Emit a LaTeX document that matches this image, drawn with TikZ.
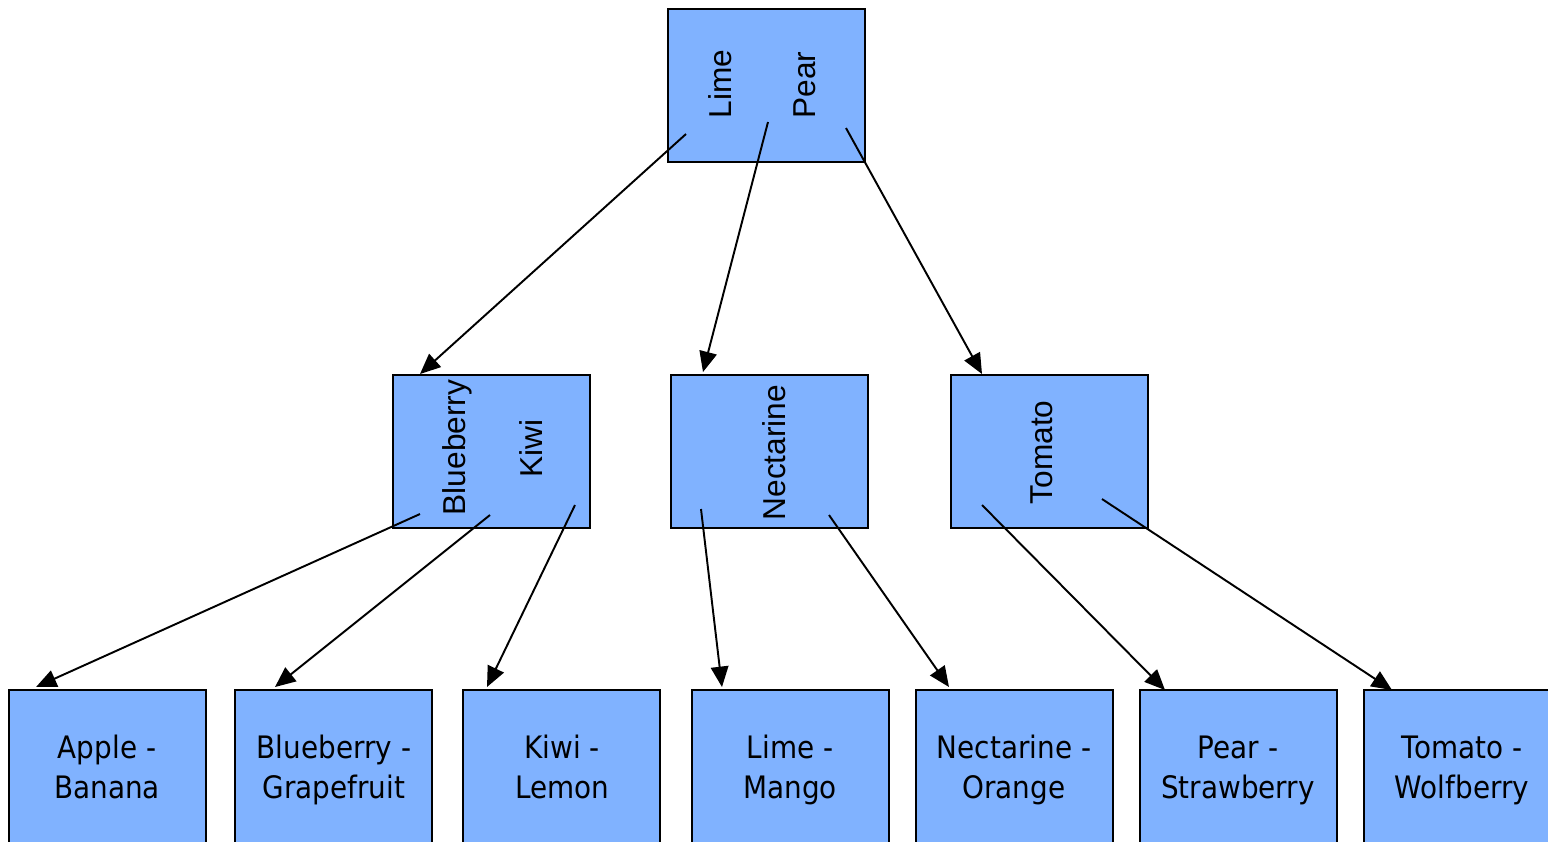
\documentclass[tikz,border=0pt]{standalone}
\usepackage{fontspec}
\setmainfont{DejaVu Sans}
\newfontfamily\rotfont{Liberation Sans}
\newfontfamily\leaffont[FakeStretch=0.9]{DejaVu Sans}
\usetikzlibrary{arrows.meta,calc}
\definecolor{boxblue}{RGB}{128,178,255}
\begin{document}
\begin{tikzpicture}[x=0.01cm,y=-0.01cm,
  box/.style={draw=black,line width=0.6pt,fill=boxblue,minimum width=1.97cm,minimum height=1.53cm,anchor=north west,inner sep=0pt,outer sep=0pt},
  vlab/.style={rotate=90,anchor=base west,inner sep=0pt,font=\rotfont\fontsize{9}{10}\selectfont},
  leaf/.style={align=center,anchor=base,inner sep=0pt,font=\leaffont\fontsize{8.8}{11.1}\selectfont},
  arr/.style={line width=0.55pt,-{Triangle[length=5.8pt,width=5pt]}}]
\useasboundingbox (0,0) rectangle (1548,841);
% boxes
\node[box] (root) at (668,9) {};
\node[box] (bk) at (393,375) {};
\node[box] (nec) at (671,375) {};
\node[box] (tom) at (951,375) {};
\node[box] (l1) at (9,690) {};
\node[box] (l2) at (235,690) {};
\node[box] (l3) at (463,690) {};
\node[box] (l4) at (692,690) {};
\node[box] (l5) at (916,690) {};
\node[box] (l6) at (1140,690) {};
\node[box] (l7) at (1364,690) {};
% rotated labels
\node[vlab] (tlime) at (731,119) {Lime};
\node[vlab] (tpear) at (815,119) {Pear};
\node[vlab] (tblue) at (465,516) {Blueberry};
\node[vlab] (tkiwi) at (542,478) {Kiwi};
\node[vlab] (tnec) at (785,521) {Nectarine};
\node[vlab] (ttom) at (1052,505) {Tomato};
% leaf labels
\node[leaf] (t1) at (107,798) {Apple -\\Banana};
\node[leaf] (t2) at (334,798) {Blueberry -\\Grapefruit};
\node[leaf] (t3) at (562,798) {Kiwi -\\Lemon};
\node[leaf] (t4) at (790,798) {Lime -\\Mango};
\node[leaf] (t5) at (1014,798) {Nectarine -\\Orange};
\node[leaf] (t6) at (1238,798) {Pear -\\Strawberry};
\node[leaf] (t7) at (1462,798) {Tomato -\\Wolfberry};
% arrows
\draw[arr] ($(root.north west)+(18,125)$) -- ($(bk.north west)+(27,-1)$);
\draw[arr] ($(root.north west)+(100,113)$) -- ($(nec.north west)+(32,-3)$);
\draw[arr] ($(root.north west)+(178,119)$) -- ($(tom.north west)+(31,-1)$);
\draw[arr] ($(bk.north west)+(27,139)$) -- ($(l1.north west)+(27,-3)$);
\draw[arr] ($(bk.north west)+(97,140)$) -- ($(l2.north west)+(40,-3)$);
\draw[arr] ($(bk.north west)+(182,130)$) -- ($(l3.north west)+(24,-3)$);
\draw[arr] ($(nec.north west)+(30,134)$) -- ($(l4.north west)+(30,-3)$);
\draw[arr] ($(nec.north west)+(158,140)$) -- ($(l5.north west)+(33,-3)$);
\draw[arr] ($(tom.north west)+(31,130)$) -- ($(l6.north west)+(25,0)$);
\draw[arr] ($(tom.north west)+(151,124)$) -- ($(l7.north west)+(28,0)$);
\end{tikzpicture}
\end{document}
